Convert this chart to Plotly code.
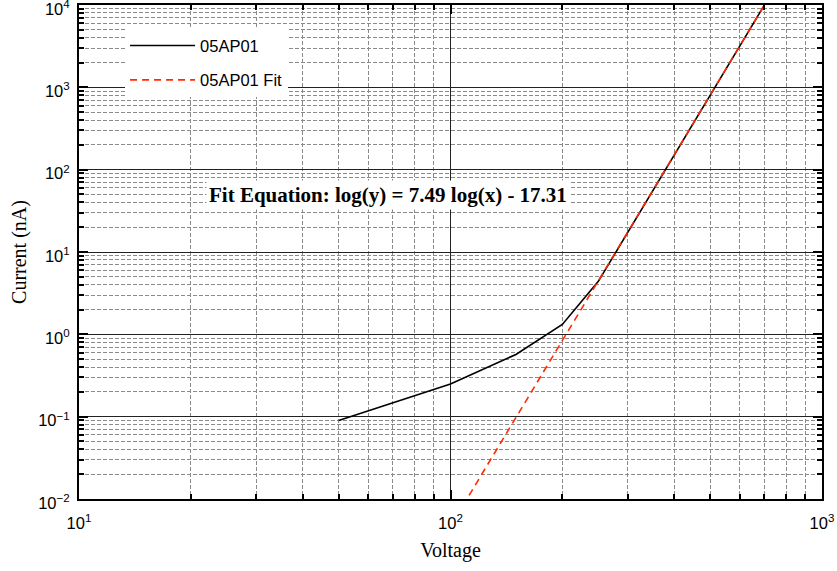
import numpy as np
import plotly.graph_objects as go

# Measured I-V data for sample 05AP01
voltage = [50, 100, 150, 200, 250, 300, 350, 400, 450, 500, 550, 600, 650, 700]
current_nA = [0.09, 0.25, 0.57, 1.32, 4.4, 17.3, 55, 150, 360, 800, 1600, 3100, 5700, 10000]

# Power-law fit: log(y) = slope * log(x) + intercept
fit_slope = 7.49
fit_intercept = -17.31
fit_voltage = [100, 110, 150, 200, 250, 300, 400, 500, 600, 700]
fit_current = [10 ** (fit_slope * np.log10(v) + fit_intercept) for v in fit_voltage]

# Decade tick positions and labels
x_tickvals = [10, 100, 1000]
x_ticktext = ["10<sup>1</sup>", "10<sup>2</sup>", "10<sup>3</sup>"]
y_tickvals = [0.01, 0.1, 1, 10, 100, 1000, 10000]
y_ticktext = ["10<sup>−2</sup>", "10<sup>−1</sup>", "10<sup>0</sup>", "10<sup>1</sup>",
              "10<sup>2</sup>", "10<sup>3</sup>", "10<sup>4</sup>"]

fig = go.Figure()
fig.add_trace(go.Scatter(
    x=voltage, y=current_nA, mode="lines", name="05AP01",
    line=dict(color="black", width=1.6), legendgroup="a",
))
fig.add_trace(go.Scatter(
    x=fit_voltage, y=fit_current, mode="lines", name="05AP01 Fit",
    line=dict(color="#ff2a00", width=1.6, dash="7px,5px"), legendgroup="b",
))

sans = "Liberation Sans, Arial, Helvetica, sans-serif"
serif = "Liberation Serif, Times New Roman, serif"
tick_font = dict(family=sans, size=16.5, color="black")

axis_common = dict(
    type="log",
    tickmode="array",
    automargin=False,
    showline=True, linecolor="black", linewidth=2, mirror="ticks",
    ticks="inside", ticklen=9, tickwidth=2, tickcolor="black",
    showgrid=True, gridcolor="#222222", gridwidth=1,
    zeroline=False,
    tickfont=tick_font,
    ticklabeloverflow="allow",
    minor=dict(dtick="D1", ticks="inside", ticklen=5, tickwidth=1.5, tickcolor="black",
               showgrid=True, gridcolor="#8a8a8a", gridwidth=1, griddash="4px,2px"),
)

fig.update_xaxes(
    **axis_common,
    tickvals=x_tickvals, ticktext=x_ticktext,
    range=[1, 3],
    ticklabelstandoff=8,
    title=dict(text="Voltage", font=dict(family=serif, size=20, color="black"), standoff=12),
)
fig.update_yaxes(
    **axis_common,
    tickvals=y_tickvals, ticktext=y_ticktext,
    range=[-2, 4],
    ticklabelstandoff=4,
    ticklabelshift=4,
    title=dict(text="Current (nA)", font=dict(family=serif, size=20, color="black"), standoff=6),
)

fig.add_annotation(
    x=1.832, y=1.692, xref="x", yref="y",
    text="<b>Fit Equation: log(y) = 7.49 log(x) - 17.31</b>",
    showarrow=False, bgcolor="white", borderpad=2,
    font=dict(family=serif, size=21, color="black"),
    xanchor="center", yanchor="middle",
)

fig.update_layout(
    width=837, height=571,
    margin=dict(l=79, r=15, t=5, b=72),
    paper_bgcolor="white", plot_bgcolor="white",
    showlegend=True,
    legend=dict(
        x=0.062, y=0.953, xanchor="left", yanchor="top",
        bgcolor="white", borderwidth=0,
        font=dict(family=sans, size=16.5, color="black"),
        tracegroupgap=10, itemwidth=65,
    ),
)

fig.write_html("out.html")
